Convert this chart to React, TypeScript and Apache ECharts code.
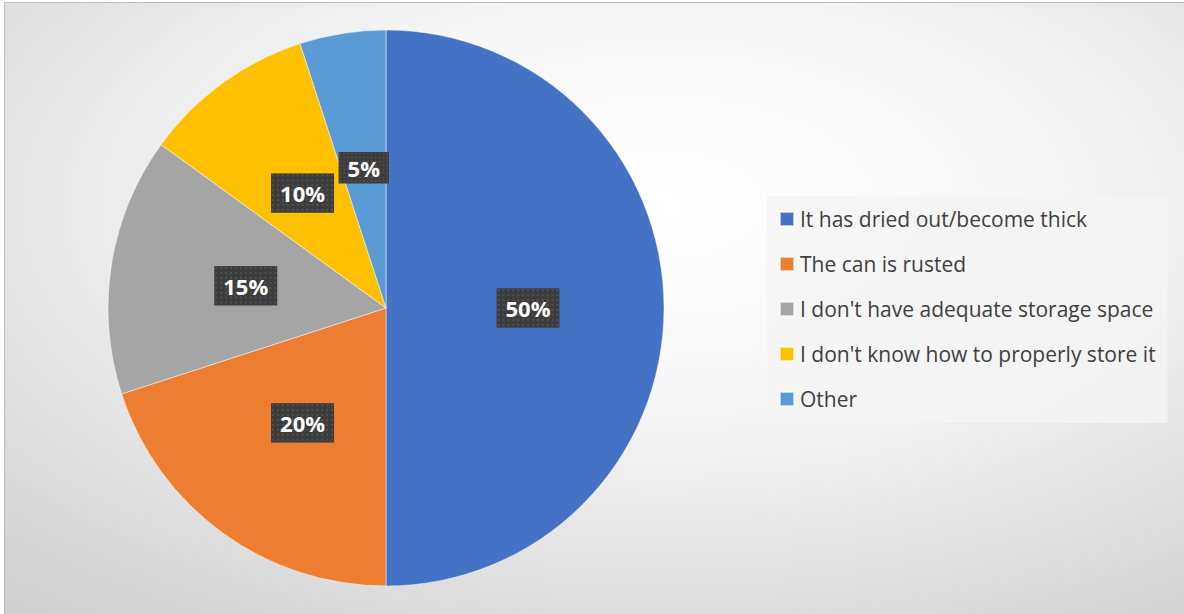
import React, { useEffect, useRef } from "react";
import * as echarts from "echarts";

const categories = [
  "It has dried out/become thick",
  "The can is rusted",
  "I don't have adequate storage space",
  "I don't know how to properly store it",
  "Other",
];
const values = [50, 20, 15, 10, 5];
const colors = ["#4472C4", "#ED7D31", "#A5A5A5", "#FFC000", "#5B9BD5"];

function makePattern(w: number, h: number): string {
  const c = document.createElement("canvas");
  c.width = w;
  c.height = h;
  const ctx = c.getContext("2d");
  if (!ctx) return "";
  ctx.fillStyle = "#3c3c3c";
  ctx.fillRect(0, 0, w, h);
  ctx.fillStyle = "#525252";
  for (let y = 1; y < h; y += 5) {
    for (let x = 1; x < w; x += 5) {
      ctx.fillRect(x, y, 2, 2);
    }
  }
  return c.toDataURL();
}

export default function App() {
  const ref = useRef<HTMLDivElement>(null);
  useEffect(() => {
    document.body.style.margin = "0";
    const chart = echarts.init(ref.current!, null, { renderer: "svg" });
    const pat = makePattern(64, 40);
    chart.setOption({
      animation: false,
      color: colors,
      graphic: [
        {
          type: "rect",
          z: -10,
          silent: true,
          shape: { x: 4.5, y: 2.5, width: 1180, height: 613 },
          style: {
            fill: new echarts.graphic.RadialGradient(0.56, 0.33, 0.95, [
              { offset: 0, color: "#ffffff" },
              { offset: 0.35, color: "#f6f6f6" },
              { offset: 1, color: "#c8c8c8" },
            ]),
            stroke: "#bdbdbd",
            lineWidth: 1,
          },
        },
      ],
      legend: {
        orient: "vertical",
        left: 767,
        top: 196,
        backgroundColor: "rgba(244,244,244,0.85)",
        padding: [12, 12, 13, 12],
        itemGap: 23,
        itemWidth: 14,
        itemHeight: 14,
        icon: "rect",
        selectedMode: false,
        textStyle: {
          fontFamily: "Open Sans",
          fontSize: 21,
          lineHeight: 22,
          color: "#404040",
          padding: [0, 0, 0, 1],
        },
        data: categories,
      },
      series: [
        {
          type: "pie",
          center: [386, 308],
          radius: 278,
          startAngle: 90,
          clockwise: true,
          itemStyle: { borderColor: "rgba(255,255,255,0.6)", borderWidth: 0.8 },
          label: {
            show: true,
            position: "inside",
            formatter: "{c}%",
            color: "#ffffff",
            fontFamily: "Open Sans",
            fontWeight: "bold",
            fontSize: 22,
            lineHeight: 26,
            backgroundColor: pat ? { image: pat } : "#424242",
            padding: [7, 9, 7, 9],
            shadowColor: "rgba(0,0,0,0.35)",
            shadowOffsetX: 3,
            shadowOffsetY: 3,
            shadowBlur: 3,
          },
          labelLine: { show: false },
          emphasis: { disabled: true },
          data: categories.map((name, i) => ({ name, value: values[i] })),
        },
      ],
    });
    return () => chart.dispose();
  }, []);
  return <div ref={ref} style={{ width: 1184, height: 614 }} />;
}
